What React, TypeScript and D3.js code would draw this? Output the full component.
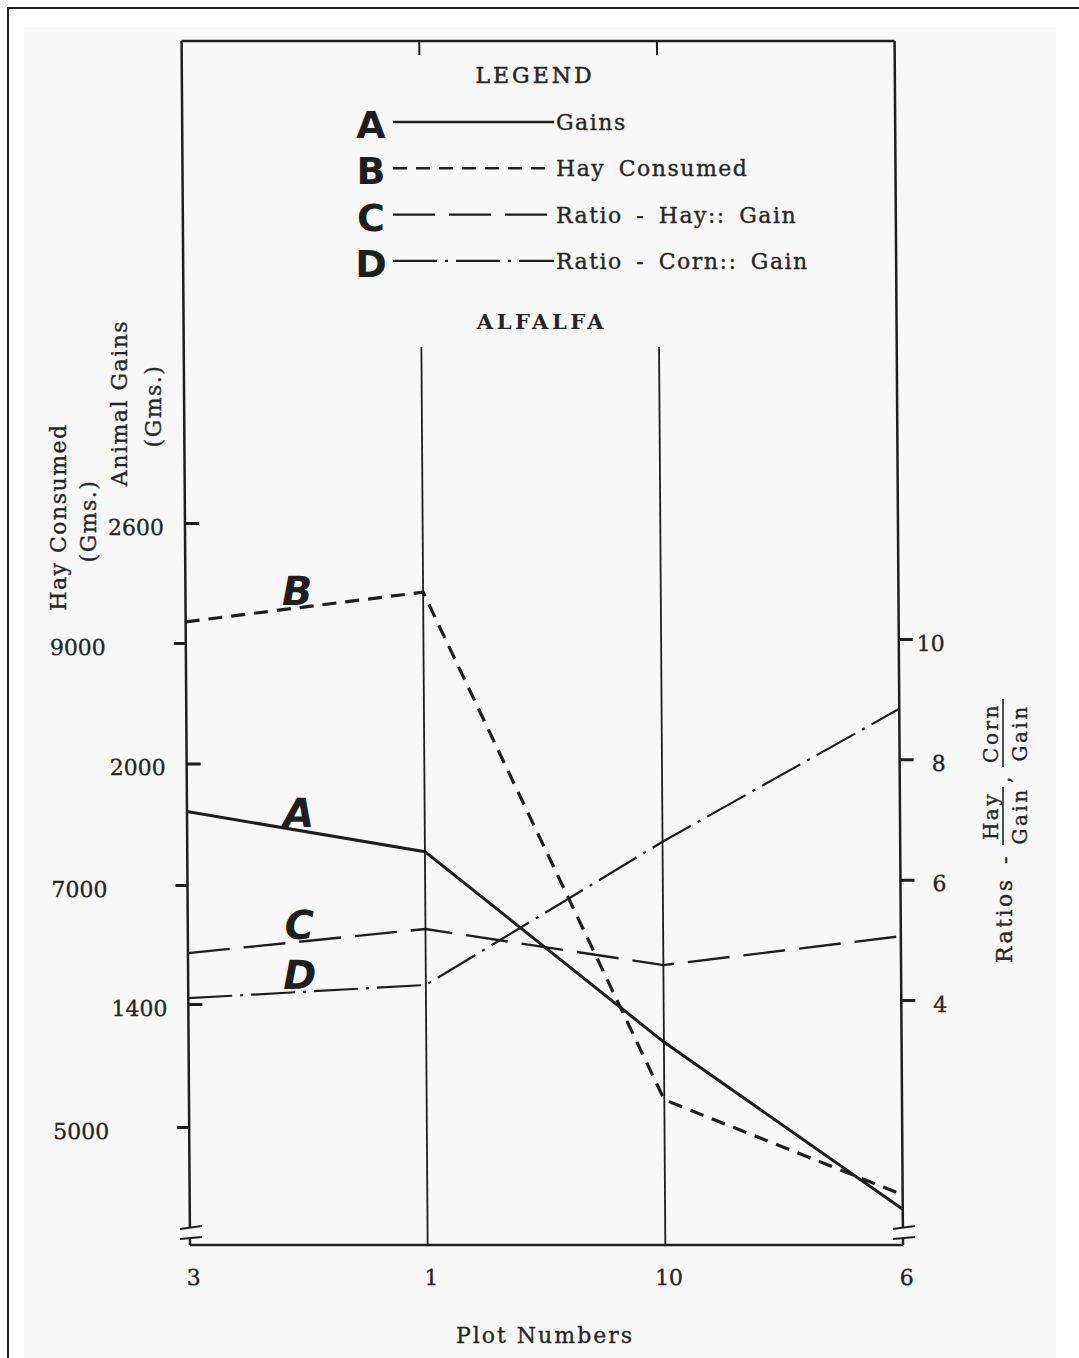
import React, { useEffect, useRef } from 'react'
import * as d3 from 'd3'

// plot order along the bottom axis
const plots = ['3', '1', '10', '6']

// series values, one per plot
const gains = [1880, 1780, 1305, 888]
const hayConsumed = [9175, 9420, 5225, 4440]
const hayRatio = [4.78, 5.18, 4.58, 5.06]
const cornRatio = [4.03, 4.25, 6.63, 8.84]

// tick labels
const gainTicks = [1400, 2000, 2600]
const hayTicks = [5000, 7000, 9000]
const ratioTicks = [4, 6, 8, 10]

// legend
const letters = ['A', 'B', 'C', 'D']
const legendNames = ['Gains', 'Hay Consumed', 'Ratio - Hay:: Gain', 'Ratio - Corn:: Gain']

const W = 1079
const H = 1358
const serif = "'DejaVu Serif', serif"
const hand = "'DejaVu Sans', sans-serif"
const ink = '#1e1e1e'
const textInk = '#262626'

const App = () => {
  const ref = useRef<SVGSVGElement>(null)

  useEffect(() => {
    main()
  }, [])

  const main = () => {
    const svg = d3.select(ref.current)
    svg.selectAll('*').remove()

    const left = 190,
      right = 903,
      top = 41,
      bottom = 1245,
      gridTop = 347,
      breakA = 1227,
      breakB = 1238

    // paper, scan area and page frame
    svg.append('rect').attr('width', W).attr('height', H).attr('fill', '#fff')
    svg.append('rect').attr('x', 24).attr('y', 27).attr('width', 1032).attr('height', H).attr('fill', '#f8f8f8')
    svg.append('path')
      .attr('d', `M${W + 5},8 H8 V${H + 5}`)
      .attr('fill', 'none')
      .attr('stroke', '#222')
      .attr('stroke-width', 2)

    const x = d3.scalePoint<string>().domain(plots).range([left, right])
    const gainY = d3.scaleLinear().domain([1400, 2600]).range([1004, 523])
    const hayY = d3.scaleLinear().domain([5000, 9000]).range([1127, 643])
    const ratioY = d3.scaleLinear().domain([4, 10]).range([1000, 639])

    // scanned text is a bit heavier than the screen font
    const inked = (sel, w = 0.35) => sel.attr('stroke', textInk).attr('stroke-width', w)

    // the scanned frame leans a little, so shear the plot about its bottom edge
    const plot = svg.append('g')
      .attr('transform', `translate(0,${bottom}) skewX(0.4) translate(0,${-bottom})`)

    const frame = (d, w = 2.5) =>
      plot.append('path').attr('d', d).attr('fill', 'none').attr('stroke', ink).attr('stroke-width', w)

    frame(`M${left},${top} H${right}`)
    frame(`M${left},${bottom} H${right}`)
    ;[left, right].forEach((ax) => {
      frame(`M${ax},${top} V${breakA} M${ax},${breakB} V${bottom}`)
      frame(`M${ax - 10},${breakA + 2} L${ax + 12},${breakA - 1}`, 2.2)
      frame(`M${ax - 10},${breakB + 1} L${ax + 12},${breakB - 1}`, 2.2)
    })
    ;['1', '10'].forEach((p) => {
      frame(`M${x(p)},${gridTop} V${bottom}`, 1.8)
      frame(`M${x(p)},${top} V${top + 14}`, 2)
    })

    const styleAxis = (g) => {
      g.select('.domain').remove()
      g.selectAll('line').attr('stroke', ink).attr('stroke-width', 3)
      g.selectAll('text')
        .attr('font-family', serif)
        .attr('font-size', 22)
        .attr('fill', textInk)
        .call(inked)
    }

    plot.append('g')
      .attr('transform', `translate(${left},0)`)
      .call(d3.axisLeft(hayY).tickValues(hayTicks).tickSize(12).tickPadding(68).tickFormat(d3.format('d')))
      .call(styleAxis)
      .selectAll('text').attr('dy', '0.5em')

    plot.append('g')
      .attr('transform', `translate(${left},0)`)
      .call(d3.axisLeft(gainY).tickValues(gainTicks).tickSizeInner(-14).tickSizeOuter(0).tickPadding(21).tickFormat(d3.format('d')))
      .call(styleAxis)
      .selectAll('text').attr('dy', '0.5em')

    plot.append('g')
      .attr('transform', `translate(${right},0)`)
      .call(d3.axisRight(ratioY).tickValues(ratioTicks).tickSize(14).tickFormat(d3.format('d')))
      .call(styleAxis)
      .selectAll('text')
      .attr('x', 46)
      .attr('text-anchor', 'end')
      .attr('dy', '0.5em')

    plot.append('g')
      .attr('transform', `translate(0,${bottom})`)
      .call(d3.axisBottom(x).tickSize(0).tickPadding(24))
      .call(styleAxis)
      .selectAll('text').attr('dx', 3)

    // data lines
    const series = [
      { values: gains, y: gainY, dash: 'none', width: 3 },
      { values: hayConsumed, y: hayY, dash: '14 9', width: 3.2 },
      { values: hayRatio, y: ratioY, dash: '42 14', width: 2.4 },
      { values: cornRatio, y: ratioY, dash: '44 8 3 8', width: 2.2 },
    ]

    series.forEach((s, k) => {
      const line = d3.line<number>()
        .x((d, i) => x(plots[i]))
        .y((d) => s.y(d))

      plot.append('path')
        .datum(s.values)
        .attr('d', line)
        .attr('fill', 'none')
        .attr('stroke', ink)
        .attr('stroke-width', s.width)
        .attr('stroke-dasharray', s.dash)

      // hand lettering sitting on the first segment
      const t = 0.47
      const lx = x(plots[0]) + t * (x(plots[1]) - x(plots[0]))
      const ly = s.y(s.values[0]) + t * (s.y(s.values[1]) - s.y(s.values[0]))
      plot.append('text')
        .attr('x', lx)
        .attr('y', ly - 3)
        .attr('text-anchor', 'middle')
        .attr('font-family', hand)
        .attr('font-weight', 'bold')
        .attr('font-style', 'italic')
        .attr('font-size', 40)
        .attr('fill', ink)
        .text(letters[k])
    })

    // legend
    const legend = svg.append('g')
    legend.append('text')
      .attr('x', 535)
      .attr('y', 83)
      .attr('text-anchor', 'middle')
      .attr('font-family', serif)
      .attr('font-size', 22)
      .attr('letter-spacing', 3)
      .attr('fill', textInk)
      .call(inked, 0.5)
      .text('LEGEND')

    const rowY = (i) => 122 + i * 46.3
    series.forEach((s, i) => {
      legend.append('text')
        .attr('x', 371)
        .attr('y', rowY(i) + 16)
        .attr('text-anchor', 'middle')
        .attr('font-family', hand)
        .attr('font-weight', 'bold')
        .attr('font-size', 38)
        .attr('fill', ink)
        .text(letters[i])
      legend.append('path')
        .attr('d', `M393,${rowY(i)} H554`)
        .attr('stroke', ink)
        .attr('stroke-width', Math.min(s.width, 2.6))
        .attr('stroke-dasharray', s.dash)
      legend.append('text')
        .attr('x', 556)
        .attr('y', rowY(i) + 8)
        .attr('font-family', serif)
        .attr('font-size', 22)
        .attr('letter-spacing', 1.5)
        .attr('word-spacing', 5)
        .attr('fill', textInk)
        .call(inked)
        .text(legendNames[i])
    })

    svg.append('text')
      .attr('x', 542)
      .attr('y', 329)
      .attr('text-anchor', 'middle')
      .attr('font-family', serif)
      .attr('font-weight', 'bold')
      .attr('font-size', 21)
      .attr('letter-spacing', 3.5)
      .attr('fill', textInk)
      .text('ALFALFA')

    // axis titles
    const vText = (tx, ty, label, size = 22) =>
      svg.append('text')
        .attr('transform', `translate(${tx},${ty}) rotate(-90)`)
        .attr('text-anchor', 'middle')
        .attr('font-family', serif)
        .attr('font-size', size)
        .attr('letter-spacing', 1.5)
        .attr('fill', textInk)
        .call(inked)
        .text(label)

    vText(66, 517, 'Hay Consumed')
    vText(96, 521, '(Gms.)')
    vText(127, 403, 'Animal Gains')
    vText(161, 406, '(Gms.)')

    const rt = svg.append('g')
      .attr('transform', 'translate(1012,963) rotate(-90)')
      .attr('font-family', serif)
      .attr('fill', textInk)
      .attr('stroke', textInk)
      .attr('stroke-width', 0.35)
    rt.append('text')
      .attr('font-size', 22)
      .attr('letter-spacing', 2.5)
      .attr('word-spacing', 4)
      .text('Ratios -')
    ;[
      ['Hay', 147, 29],
      ['Corn', 230, 34],
    ].forEach(([num, cx, half]) => {
      rt.append('text').attr('x', cx).attr('y', -14).attr('text-anchor', 'middle')
        .attr('font-size', 20).attr('letter-spacing', 2.5).text(num)
      rt.append('text').attr('x', cx).attr('y', 15).attr('text-anchor', 'middle')
        .attr('font-size', 20).attr('letter-spacing', 2.5).text('Gain')
      rt.append('path')
        .attr('d', `M${+cx - +half},-9 H${+cx + +half}`)
        .attr('stroke-width', 1.6)
    })
    rt.append('text').attr('x', 180).attr('y', -2).attr('font-size', 20).text(',')

    svg.append('text')
      .attr('x', 545)
      .attr('y', 1343)
      .attr('text-anchor', 'middle')
      .attr('font-family', serif)
      .attr('font-size', 22)
      .attr('letter-spacing', 2)
      .attr('fill', textInk)
      .call(inked)
      .text('Plot Numbers')
  }

  return (
    <svg
      ref={ref}
      width={W}
      height={H}
      style={{ position: 'absolute', left: 0, top: 0, display: 'block' }}
    ></svg>
  )
}

export default App
